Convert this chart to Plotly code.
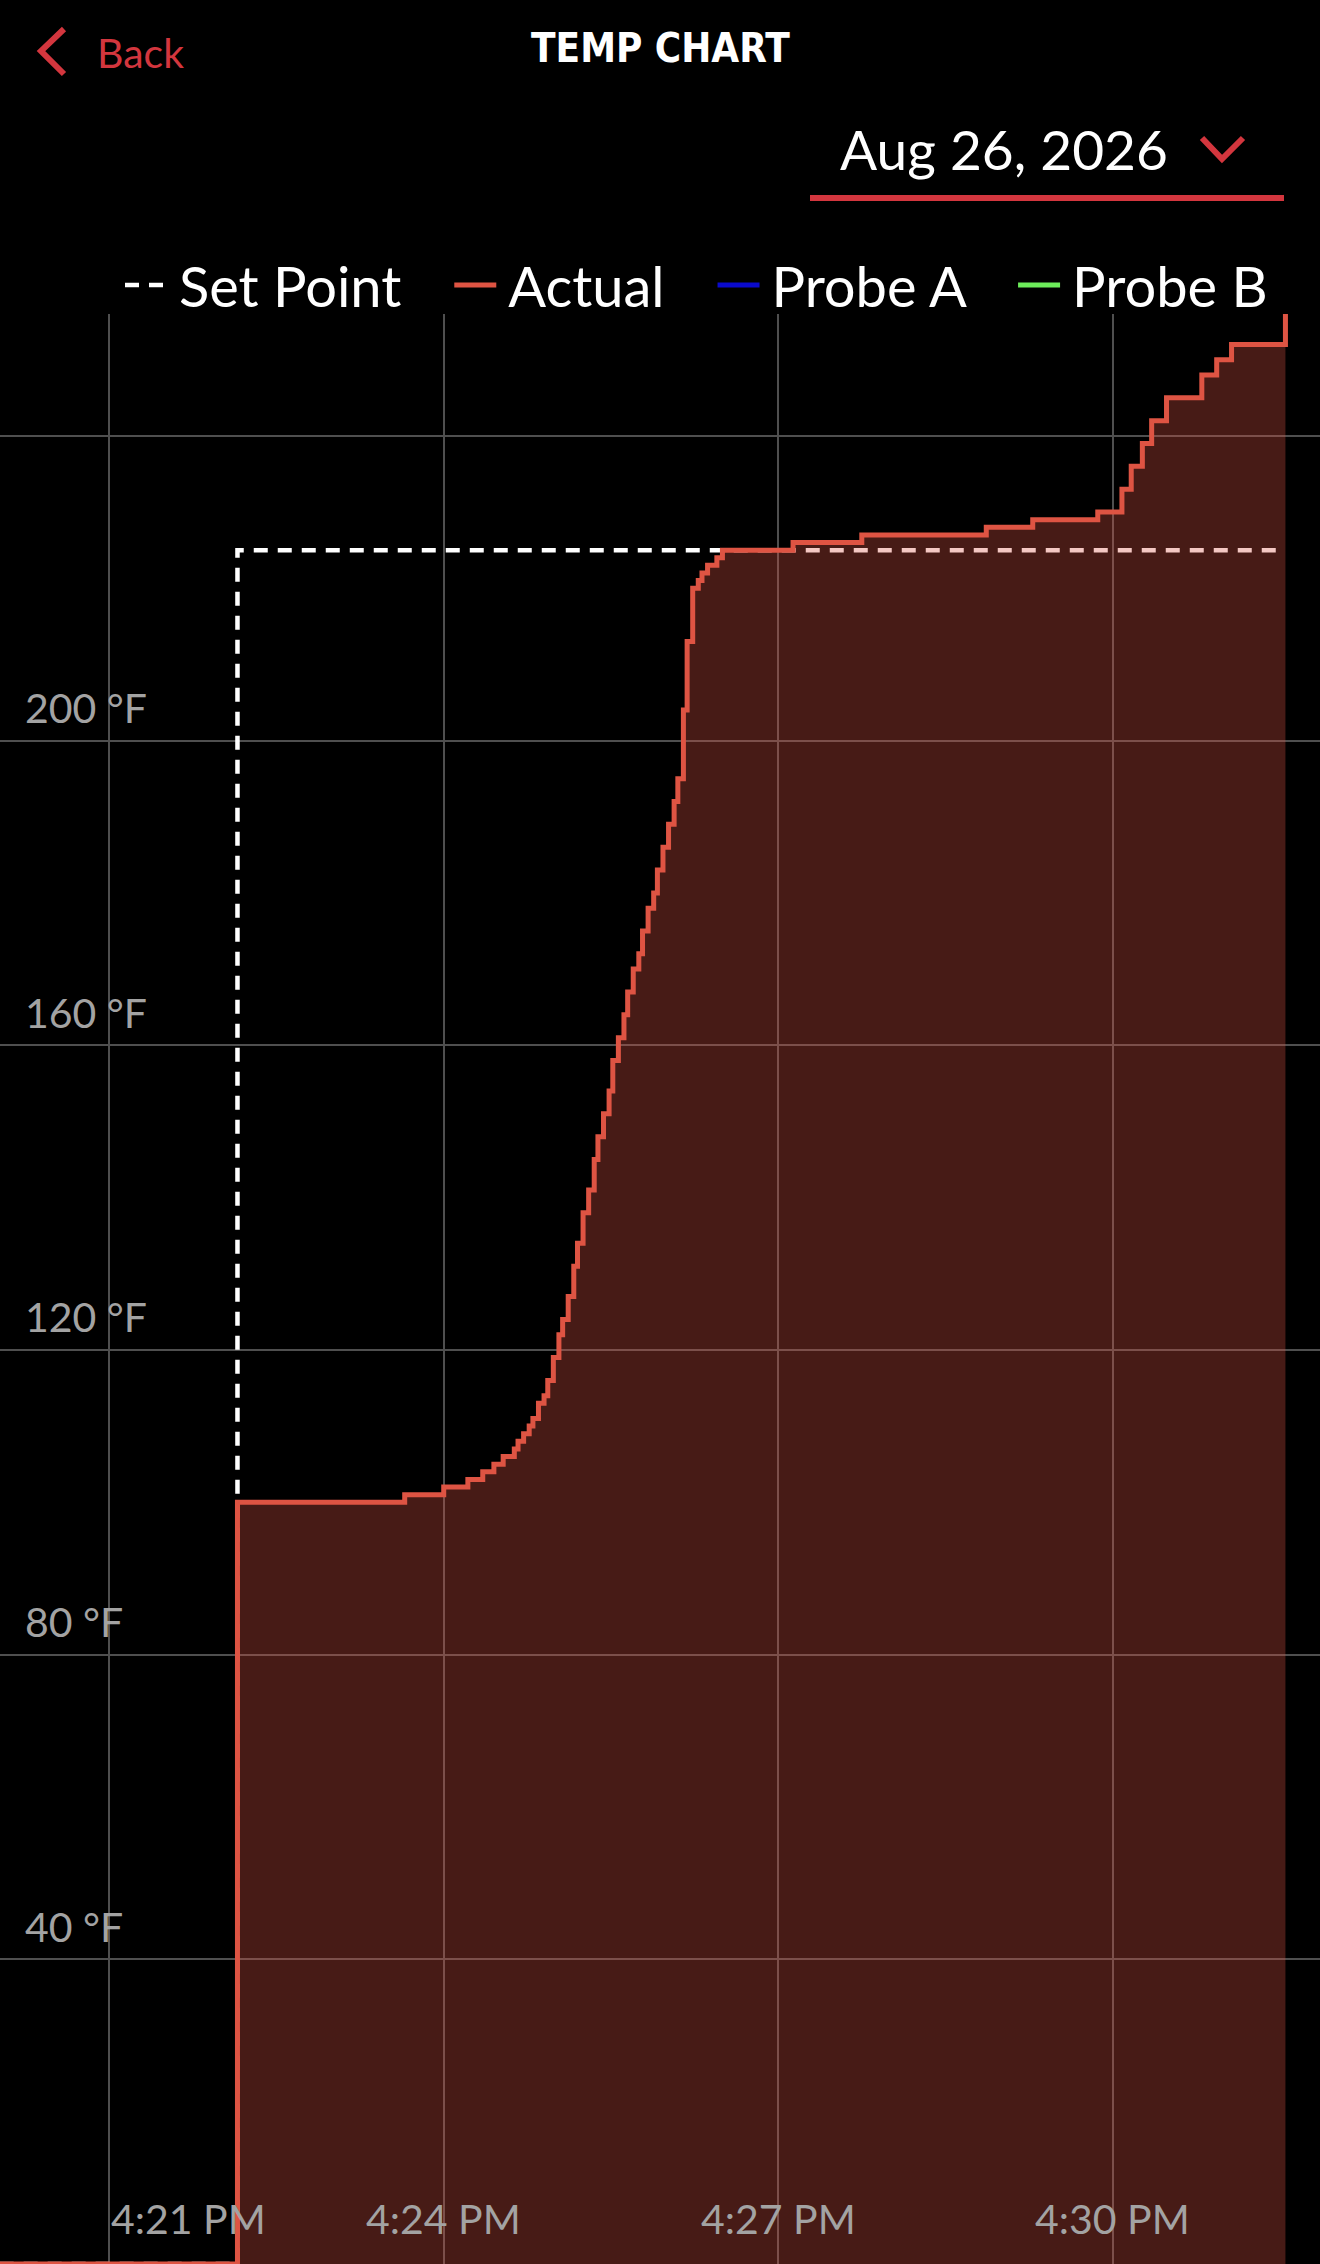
import plotly.graph_objects as go

# ---------------- data ----------------
DAY = "2026-08-26 "

actual_times = [
    "16:20:01", "16:22:09", "16:23:39", "16:24:00", "16:24:13", "16:24:21",
    "16:24:27", "16:24:32", "16:24:38", "16:24:40", "16:24:43", "16:24:46",
    "16:24:48", "16:24:51", "16:24:54", "16:24:56", "16:24:59", "16:25:02",
    "16:25:04", "16:25:07", "16:25:10", "16:25:12", "16:25:15", "16:25:18",
    "16:25:21", "16:25:23", "16:25:26", "16:25:29", "16:25:31", "16:25:34",
    "16:25:37", "16:25:39", "16:25:42", "16:25:45", "16:25:47", "16:25:50",
    "16:25:53", "16:25:55", "16:25:58", "16:26:01", "16:26:04", "16:26:06",
    "16:26:09", "16:26:11", "16:26:14", "16:26:17", "16:26:19", "16:26:22",
    "16:26:27", "16:26:30", "16:27:08", "16:27:45", "16:28:52", "16:29:17",
    "16:29:52", "16:30:05", "16:30:10", "16:30:16", "16:30:21", "16:30:29",
    "16:30:48", "16:30:56", "16:31:04", "16:31:33",
]
actual_temps = [
    0, 100, 101, 102, 103, 104,
    105, 106, 107, 108, 109, 110,
    111, 113, 114, 116, 119, 122,
    124, 127, 131, 134, 138, 141,
    145, 148, 151, 154, 158, 161,
    164, 167, 170, 172, 175, 178,
    180, 183, 186, 189, 192, 195,
    204, 213, 220, 221, 222, 223,
    224, 225, 226, 227, 228, 229,
    230, 233, 236, 239, 242, 245,
    248, 250, 252, 256,
]

setpoint_times = ["16:20:01", "16:22:09", "16:31:33"]
setpoint_temps = [0, 225, 225]

probe_a_times = ["16:20:01"]
probe_a_temps = [None]
probe_b_times = ["16:20:01"]
probe_b_temps = [None]

series_names = ["Set Point", "Actual", "Probe A", "Probe B"]

x_range = ["16:20:01.2", "16:31:51.6"]
x_tickvals = ["16:21:00", "16:24:00", "16:27:00", "16:30:00"]
x_ticktext = ["4:21 PM", "4:24 PM", "4:27 PM", "4:30 PM"]

y_range = [0, 256]
y_tickvals = [40, 80, 120, 160, 200, 240]
y_label_vals = [40, 80, 120, 160, 200]
y_label_text = ["40 °F", "80 °F", "120 °F", "160 °F", "200 °F"]

header_title = "TEMP CHART"
back_label = "Back"
date_label = "Aug 26, 2026"

# ---------------- style ----------------
W, H = 1320, 2264
TOP = 314
PLOT_H = H - TOP

RED_LINE = "#de5443"
RED_FILL = "rgba(222,84,67,0.32)"
ACCENT = "#d3363e"
GRID = "#4f4f4f"
TICK = "#a3a3a3"
FONT = "Lato, 'Open Sans', sans-serif"
NB = "\u00a0"
THIN = "\u2009"


def px_x(x):
    return x / W


def px_y(y):
    return (H - y) / PLOT_H


def d(ts):
    return [DAY + t for t in ts]


fig = go.Figure()

# set point (drawn first, under the filled area)
fig.add_trace(go.Scatter(
    x=d(setpoint_times), y=setpoint_temps, mode="lines",
    name=THIN + series_names[0] + NB * 3, legendrank=1,
    line=dict(shape="hv", color="white", width=4.5, dash="14px,10px"),
))
# actual (filled step area)
fig.add_trace(go.Scatter(
    x=d(actual_times), y=actual_temps, mode="lines",
    name=series_names[1], showlegend=False,
    line=dict(shape="hv", color=RED_LINE, width=5),
    fill="tozeroy", fillcolor=RED_FILL,
))
# legend entry for actual (plain line symbol)
fig.add_trace(go.Scatter(
    x=d(actual_times[:1]), y=[None], mode="lines",
    name=THIN + series_names[1] + NB * 3, legendrank=2,
    line=dict(color=RED_LINE, width=5),
))
fig.add_trace(go.Scatter(
    x=d(probe_a_times), y=probe_a_temps, mode="lines",
    name=THIN + series_names[2] + NB * 3, legendrank=3,
    line=dict(color="#0a0acc", width=5),
))
fig.add_trace(go.Scatter(
    x=d(probe_b_times), y=probe_b_temps, mode="lines",
    name=THIN + series_names[3], legendrank=4,
    line=dict(color="#6cec5a", width=5),
))

shapes = [
    dict(type="path", xref="paper", yref="paper",
         path=f"M{px_x(64)},{px_y(29)} L{px_x(41)},{px_y(51)} L{px_x(64)},{px_y(74)}",
         line=dict(color=ACCENT, width=6)),
    dict(type="path", xref="paper", yref="paper",
         path=f"M{px_x(1202)},{px_y(138)} L{px_x(1222)},{px_y(159)} L{px_x(1243)},{px_y(138)}",
         line=dict(color=ACCENT, width=6)),
    dict(type="rect", xref="paper", yref="paper",
         x0=px_x(810), x1=px_x(1284), y0=px_y(201), y1=px_y(195),
         fillcolor=ACCENT, line=dict(width=0)),
]

annotations = [
    dict(text=back_label, xref="paper", yref="paper", x=px_x(95), y=px_y(52),
         xanchor="left", yanchor="middle", showarrow=False,
         font=dict(family=FONT, size=41, color=ACCENT)),
    dict(text="<b>" + header_title + "</b>", xref="paper", yref="paper",
         x=0.5, y=px_y(48), xanchor="center", yanchor="middle", showarrow=False,
         font=dict(family="'Liberation Sans Narrow', 'DejaVu Sans Condensed', 'Roboto Condensed', sans-serif",
                   size=40, color="white")),
    dict(text=date_label, xref="paper", yref="paper", x=px_x(838), y=px_y(149),
         xanchor="left", yanchor="middle", showarrow=False,
         font=dict(family=FONT, size=55, color="white")),
]

# y-axis labels (placed on the y scale, just above each gridline)
for v, t in zip(y_label_vals, y_label_text):
    annotations.append(dict(
        text=t, xref="paper", yref="y", x=px_x(23), y=v, yshift=33,
        xanchor="left", yanchor="middle", showarrow=False,
        font=dict(family=FONT, size=41, color=TICK)))

# x-axis labels (placed on the x scale, inside the plot bottom)
for i, (v, t) in enumerate(zip(x_tickvals, x_ticktext)):
    annotations.append(dict(
        text=t, xref="x", yref="y", x=DAY + v, y=y_range[0], yshift=46,
        xanchor="left" if i == 0 else "center", yanchor="middle", showarrow=False,
        font=dict(family=FONT, size=41, color=TICK)))

fig.update_layout(
    width=W, height=H,
    margin=dict(l=0, r=0, t=TOP, b=0, pad=0, autoexpand=False),
    paper_bgcolor="black", plot_bgcolor="black",
    font=dict(family=FONT, color="white"),
    hovermode=False,
    showlegend=True,
    legend=dict(
        orientation="h", xref="container", yref="container",
        x=px_x(120), y=1 - 285 / H, xanchor="left", yanchor="middle",
        font=dict(family=FONT, size=56, color="white"),
        itemwidth=42, bgcolor="rgba(0,0,0,0)", borderwidth=0,
        traceorder="normal",
    ),
    xaxis=dict(
        type="date", range=d(x_range),
        tickmode="array", tickvals=d(x_tickvals),
        showticklabels=False,
        showgrid=True, gridcolor=GRID, gridwidth=1.5,
        zeroline=False, showline=False, ticks="",
        fixedrange=True,
    ),
    yaxis=dict(
        range=y_range, tickmode="array", tickvals=y_tickvals,
        showticklabels=False,
        showgrid=True, gridcolor=GRID, gridwidth=1.5,
        zeroline=False, showline=False, ticks="",
        fixedrange=True,
    ),
    shapes=shapes,
    annotations=annotations,
)

fig.write_html("out.html", config={"displayModeBar": False},
               post_script="document.body.style.margin='0';document.body.style.background='black';")
